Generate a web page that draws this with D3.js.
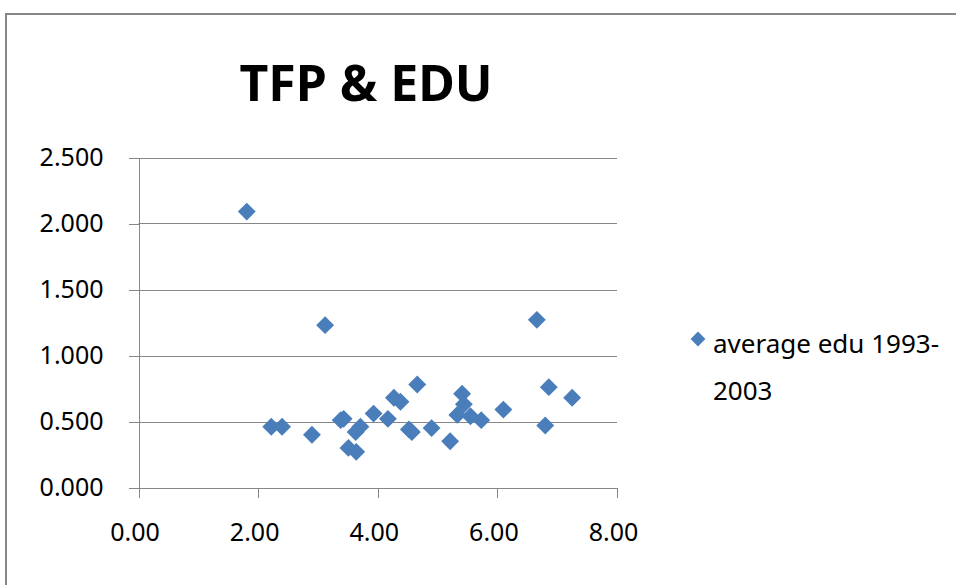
<!DOCTYPE html>
<html>
<head>
<meta charset="utf-8">
<script src="https://cdn.jsdelivr.net/npm/d3@7.9.0/dist/d3.min.js"></script>
<style>
  body { margin: 0; background: #fff; }
  svg { display: block; }
  text { font-family: "Noto Sans", "DejaVu Sans", sans-serif; fill: #000; }
</style>
</head>
<body>
<svg width="956" height="585"></svg>
<script>
// data: average edu 1993-2003 (x) vs TFP (y)
const eduAvg = [1.81, 3.12, 6.66, 2.22, 2.40, 2.90, 3.38, 3.43, 3.51, 3.64,
  3.63, 3.71, 3.93, 4.17, 4.27, 4.38, 4.66, 4.52, 4.57, 4.90,
  5.21, 5.41, 5.44, 5.33, 5.55, 5.73, 6.10, 6.86, 6.80, 7.25];
const tfp = [2.09, 1.23, 1.27, 0.46, 0.46, 0.40, 0.51, 0.52, 0.30, 0.27,
  0.42, 0.46, 0.56, 0.52, 0.68, 0.65, 0.78, 0.44, 0.42, 0.45,
  0.35, 0.71, 0.63, 0.55, 0.54, 0.51, 0.59, 0.76, 0.47, 0.68];
const xTicks = [0, 2, 4, 6, 8];
const yTicks = [0, 0.5, 1, 1.5, 2, 2.5];
const seriesName = ['average edu 1993-', '2003'];
const chartTitle = 'TFP & EDU';

const svg = d3.select('svg');
const grey = '#878787';
const blue = '#4a7ebb';

// outer chart frame (right and bottom run off the picture)
svg.append('rect')
  .attr('x', 6).attr('y', 14)
  .attr('width', 1000).attr('height', 700)
  .attr('fill', '#fff')
  .attr('stroke', grey)
  .attr('stroke-width', 2);

let x = d3.scaleLinear().domain([0, 8]).range([138.5, 617]);
let y = d3.scaleLinear().domain([0, 2.5]).range([487.5, 157.5]);

// horizontal gridlines
svg.append('g')
  .selectAll('line')
  .data(yTicks)
  .join('line')
  .attr('x1', x(0)).attr('x2', x(8))
  .attr('y1', (d) => Math.round(y(d)) + 0.5)
  .attr('y2', (d) => Math.round(y(d)) + 0.5)
  .attr('stroke', grey);

// y axis
let yAxis = svg.append('g')
  .attr('transform', `translate(${x(0)},0)`)
  .call(d3.axisLeft(y).tickValues(yTicks).tickFormat(d3.format('.3f'))
    .tickSize(10).tickSizeOuter(0).tickPadding(25));

// x axis
let xAxis = svg.append('g')
  .attr('transform', `translate(0,${y(0)})`)
  .call(d3.axisBottom(x).tickValues(xTicks).tickFormat(d3.format('.2f'))
    .tickSize(10).tickSizeOuter(0).tickPadding(26));

[yAxis, xAxis].forEach((ax) => {
  ax.select('.domain').attr('stroke', grey).attr('shape-rendering', 'crispEdges');
  ax.selectAll('.tick line').attr('stroke', grey).attr('shape-rendering', 'crispEdges');
  ax.selectAll('.tick text')
    .attr('font-size', 25)
    .attr('font-family', '"Noto Sans", sans-serif')
    .attr('fill', '#000');
});
xAxis.selectAll('.tick text').attr('dx', -4);

// points as diamonds
let diamond = d3.symbol().type(d3.symbolSquare).size(160);
let points = eduAvg.map((e, i) => ({ x: e, y: tfp[i] }));
svg.append('g')
  .selectAll('path')
  .data(points)
  .join('path')
  .attr('d', diamond)
  .attr('transform', (d) => `translate(${x(d.x)},${y(d.y)}) rotate(45)`)
  .attr('fill', blue);

// title
svg.append('text')
  .attr('x', 366).attr('y', 101)
  .attr('text-anchor', 'middle')
  .attr('font-size', 50)
  .attr('font-weight', 'bold')
  .text(chartTitle);

// legend
let legend = svg.append('g');
legend.append('path')
  .attr('d', d3.symbol().type(d3.symbolSquare).size(110))
  .attr('transform', 'translate(698,339) rotate(45)')
  .attr('fill', blue);
legend.selectAll('text')
  .data(seriesName)
  .join('text')
  .attr('x', 713)
  .attr('y', (d, i) => 353 + i * 47)
  .attr('font-size', 26)
  .text((d) => d);
</script>
</body>
</html>
